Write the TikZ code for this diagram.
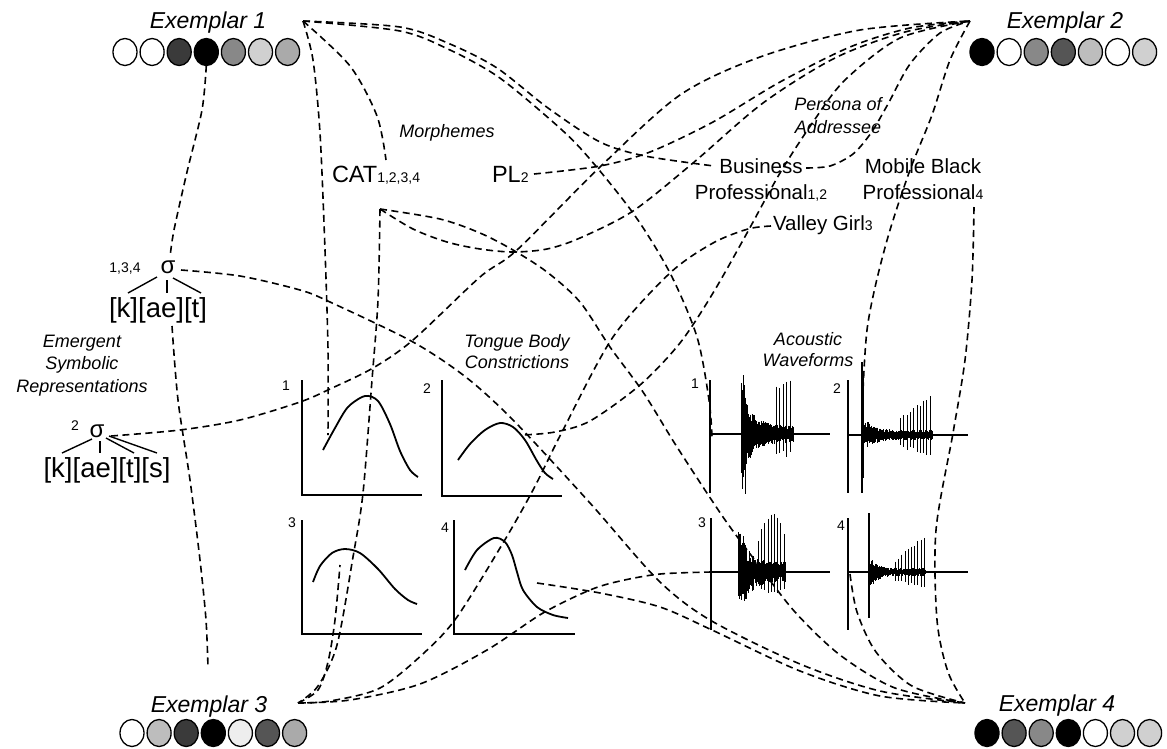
\documentclass[tikz,border=0pt]{standalone}
\usepackage{fontspec}
\setmainfont{Liberation Sans}
\usetikzlibrary{shapes.geometric}
\definecolor{gA}{HTML}{3A3A3A}
\definecolor{gB}{HTML}{888888}
\definecolor{gC}{HTML}{D0D0D0}
\definecolor{gD}{HTML}{AAAAAA}
\definecolor{gE}{HTML}{555555}
\definecolor{gF}{HTML}{BDBDBD}
\definecolor{gG}{HTML}{EEEEEE}
\newcommand\sbs[1]{{\fontsize{14}{16}\selectfont #1}}
\begin{document}
\begin{tikzpicture}[x=1pt,y=-1pt,
  every node/.style={inner sep=0pt, outer sep=0pt},
  conn/.style={line width=1.6pt, dash pattern=on 7pt off 4.5pt},
  axisline/.style={line width=1.9pt},
  tcurve/.style={line width=1.8pt},
  wv/.style={line width=0.8pt},
  treeline/.style={line width=1.4pt},
  dotc/.style={ellipse, draw=black, line width=1.3pt, minimum width=24pt, minimum height=27pt},
  exl/.style={font=\fontsize{23}{27}\selectfont\itshape},
  lbl/.style={font=\fontsize{18}{22}\selectfont\itshape},
  big/.style={font=\fontsize{23.5}{28}\selectfont},
  pers/.style={font=\fontsize{20.5}{25}\selectfont},
  num/.style={font=\fontsize{14}{16}\selectfont},
  brk/.style={font=\fontsize{27.5}{30}\selectfont},
  sig/.style={font=\fontsize{24}{26}\selectfont},
]
\useasboundingbox (0,0) rectangle (1167,748);
\fill[white] (0,0) rectangle (1167,748);

% ---------- exemplar labels and feature circles
\node[exl, anchor=base] (ex1) at (208,28) {Exemplar 1};
\node[exl, anchor=base] (ex2) at (1065,28) {Exemplar 2};
\node[exl, anchor=base] (ex3) at (209,712) {Exemplar 3};
\node[exl, anchor=base] (ex4) at (1057,711) {Exemplar 4};
\foreach \c [count=\i] in {white,white,gA,black,gB,gC,gD}
  \node[dotc, fill=\c] (ea\i) at ({125+27.1*(\i-1)},52) {};
\foreach \c [count=\i] in {black,white,gB,gE,gF,white,gC}
  \node[dotc, fill=\c] (eb\i) at ({982+27.1*(\i-1)},52) {};
\foreach \c [count=\i] in {white,gF,gA,black,gG,gE,gD}
  \node[dotc, fill=\c] (ec\i) at ({132+27.1*(\i-1)},733) {};
\foreach \c [count=\i] in {black,gE,gB,black,white,gC,gC}
  \node[dotc, fill=\c] (ed\i) at ({987+27.1*(\i-1)},733) {};

% ---------- text labels
\node[lbl, anchor=base] (morph) at (447,137) {Morphemes};
\node[big, anchor=base west] (cat) at (332,182) {CAT\sbs{1,2,3,4}};
\node[big, anchor=base west] (pl) at (492,182) {PL\sbs{2}};
\node[lbl, anchor=base] (per1) at (838,110) {Persona of};
\node[lbl, anchor=base] (per2) at (838,133) {Addressee};
\node[pers, anchor=base] (bus1) at (761,173) {Business};
\node[pers, anchor=base] (bus2) at (761,199) {Professional\sbs{1,2}};
\node[pers, anchor=base] (mob1) at (923,173) {Mobile Black};
\node[pers, anchor=base] (mob2) at (923,199) {Professional\sbs{4}};
\node[pers, anchor=base west] (val) at (773,230) {Valley Girl\sbs{3}};
\node[lbl, anchor=base] (em1) at (82,347) {Emergent};
\node[lbl, anchor=base] (em2) at (82,369) {Symbolic};
\node[lbl, anchor=base] (em3) at (82,392) {Representations};
\node[lbl, anchor=base] (tb1) at (517,347) {Tongue Body};
\node[lbl, anchor=base] (tb2) at (517,368) {Constrictions};
\node[lbl, anchor=base] (ac1) at (808,345) {Acoustic};
\node[lbl, anchor=base] (ac2) at (808,366) {Waveforms};

% ---------- symbolic representations
\node[sig, anchor=base] (sig1) at (168,273) {σ};
\node[num, anchor=base] (sig1n) at (125,272) {1,3,4};
\node[brk, anchor=base] (kat) at (158,317) {[k][ae][t]};
\draw[treeline] (157,277) -- (128,293);
\draw[treeline] (167,280) -- (167,293);
\draw[treeline] (173,278) -- (201,293);
\node[sig, anchor=base] (sig2) at (97,437) {σ};
\node[num, anchor=base] (sig2n) at (75,430) {2};
\node[brk, anchor=base] (kats) at (107,477) {[k][ae][t][s]};
\draw[treeline] (92,439) -- (62,453);
\draw[treeline] (100,441) -- (100,453);
\draw[treeline] (106,438) -- (134,453);
\draw[treeline] (109,436) -- (157,453);

% ---------- tongue body panels
\node[num, anchor=base] (p1n) at (286,390) {1};
\node[num, anchor=base] (p2n) at (427,393) {2};
\node[num, anchor=base] (p3n) at (292,527) {3};
\node[num, anchor=base] (p4n) at (445,532) {4};
\draw[axisline] (302,380) -- (302,495) -- (422,495);
\draw[axisline] (442,380) -- (442,496) -- (562,496);
\draw[axisline] (302,520) -- (302,634) -- (422,634);
\draw[axisline] (454,520) -- (454,634) -- (575,634);
\draw[tcurve] plot[smooth] coordinates {(323,450) (335,428) (348,407) (365,396) (378,401) (390,424) (400,451) (410,470) (418,477)};
\draw[tcurve] plot[smooth] coordinates {(458,460) (470,444) (485,430) (500,423) (513,427) (525,440) (537,461) (545,473) (553,479)};
\draw[tcurve] plot[smooth] coordinates {(313,582) (320,566) (332,553) (345,549) (360,553) (378,569) (395,589) (408,600) (417,604)};
\draw[tcurve] plot[smooth] coordinates {(465,570) (477,550) (494,538) (505,542) (512,555) (517,572) (523,590) (537,607) (553,615) (568,618)};

% ---------- acoustic waveforms
\node[num, anchor=base] (w1n) at (695,388) {1};
\node[num, anchor=base] (w2n) at (837,393) {2};
\node[num, anchor=base] (w3n) at (702,527) {3};
\node[num, anchor=base] (w4n) at (841,530) {4};
\pgfmathsetseed{4242}
\foreach \x in {741,741.5,...,793}{
  \pgfmathsetmacro\onA{\x<746 ? 1 : 0}
  \pgfmathsetmacro\spA{and(\x>=776, mod(\x-776,3.5)<0.5) ? 1 : 0}
  \pgfmathsetmacro\envA{8+24*exp(-(\x-746)/11)}
  \pgfmathsetmacro\upA{\onA>0 ? 34+28*rnd : (\spA>0 ? 46+8*rnd : \envA*(0.4+0.6*rnd))}
  \pgfmathsetmacro\dnA{\onA>0 ? 30+30*rnd : (\spA>0 ? 16+8*rnd : \envA*(0.4+0.6*rnd))}
  \draw[wv] (\x,434-\upA) -- (\x,434+\dnA);
}
\draw[line width=1.1pt] (862,362) -- (862,493);
\draw[wv] (863.5,378) -- (863.5,478);
\foreach \x in {864,864.5,...,932}{
  \pgfmathsetmacro\spA{and(\x>=900, mod(\x-900,3.3)<0.5) ? 1 : 0}
  \pgfmathsetmacro\envA{5+12*exp(-(\x-864)/9)}
  \pgfmathsetmacro\grA{(\x-900)/32}
  \pgfmathsetmacro\upA{\spA>0 ? 14+22*\grA+5*rnd : \envA*(0.4+0.6*rnd)}
  \pgfmathsetmacro\dnA{\spA>0 ? 9+9*\grA+4*rnd : \envA*(0.4+0.6*rnd)}
  \draw[wv] (\x,435-\upA) -- (\x,435+\dnA);
}
\foreach \x in {738,738.5,...,785}{
  \pgfmathsetmacro\onA{\x<744 ? 1 : 0}
  \pgfmathsetmacro\spA{and(\x>=758, mod(\x-758,3.2)<0.5) ? 1 : 0}
  \pgfmathsetmacro\grA{max(0.2,sin((\x-756)*5.5))}
  \pgfmathsetmacro\envA{10+22*exp(-(\x-744)/9)}
  \pgfmathsetmacro\upA{\onA>0 ? 24+16*rnd : (\spA>0 ? 22+34*\grA+4*rnd : \envA*(0.4+0.6*rnd))}
  \pgfmathsetmacro\dnA{\onA>0 ? 16+12*rnd : (\spA>0 ? 10+10*\grA+3*rnd : \envA*(0.4+0.6*rnd))}
  \draw[wv] (\x,572-\upA) -- (\x,572+\dnA);
}
\draw[line width=1.1pt] (869,513) -- (869,618);
\foreach \x in {870,870.5,...,925}{
  \pgfmathsetmacro\spA{and(\x>=895, mod(\x-895,3.2)<0.5) ? 1 : 0}
  \pgfmathsetmacro\grA{(\x-895)/30}
  \pgfmathsetmacro\envA{4+12*exp(-(\x-870)/7)}
  \pgfmathsetmacro\upA{\spA>0 ? 10+24*\grA+4*rnd : \envA*(0.4+0.6*rnd)}
  \pgfmathsetmacro\dnA{\spA>0 ? 7+8*\grA+3*rnd : \envA*(0.4+0.6*rnd)}
  \draw[wv] (\x,572-\upA) -- (\x,572+\dnA);
}
\draw[axisline] (710,380) -- (710,493);
\draw[axisline] (710,434) -- (830,434);
\draw[axisline] (848,380) -- (848,493);
\draw[axisline] (848,435) -- (968,435);
\draw[axisline] (711,518) -- (711,630);
\draw[axisline] (711,572) -- (830,572);
\draw[axisline] (848,518) -- (848,630);
\draw[axisline] (848,572) -- (968,572);

% ---------- connector end points
\coordinate (h1) at (303,21);
\coordinate (h2) at (970,21);
\coordinate (h3) at (298,703);
\coordinate (h4) at (965,703);
\coordinate (t1) at (328,435);
\coordinate (t2) at (523,435);
\coordinate (t3) at (340,565);
\coordinate (t4) at (537,583);
\coordinate (w1) at (712,437);
\coordinate (w2) at (862,437);
\coordinate (w3) at (711,572);
\coordinate (w4) at (850,574);
\coordinate (catT) at (386,160);
\coordinate (catB) at (380,209);
\coordinate (plR) at (534,174);
\coordinate (busL) at (714,166);
\coordinate (busR) at (806,168);
\coordinate (mobB) at (974,207);
\coordinate (valL) at (771,226);
\coordinate (s1T) at (170,257);
\coordinate (s1R) at (181,270);
\coordinate (s1B) at (172,326);
\coordinate (s1E) at (208,668);
\coordinate (s2R) at (111,436);

% ---------- dashed connectors
\draw[conn] plot[smooth] coordinates {(ea4.south) (202,110) (187,172) (174,230) (s1T)};
\draw[conn] plot[smooth] coordinates {(h1) (350,66) (377,116) (catT)};
\draw[conn] plot[smooth] coordinates {(h1) (313,60) (320,133) (325,250) (328,350) (t1)};
\draw[conn] plot[smooth] coordinates {(h1) (400,27) (450,44) (497,68) (548,108) (600,142) (645,156) (busL)};
\draw[conn] plot[smooth] coordinates {(h1) (400,31) (450,50) (497,76) (545,115) (582,150) (633,213) (670,273) (697,337) (709,400) (w1)};
\draw[conn] plot[smooth] coordinates {(catB) (413,229) (447,242) (480,249) (513,252) (547,249) (580,238) (633,211) (693,163) (763,103) (835,58) (905,32) (h2)};
\draw[conn] plot[smooth] coordinates {(catB) (440,219) (480,233) (513,250) (547,272) (580,302) (610,347) (643,392) (677,447) (723,517) (757,563) (795,612) (840,655) (895,688) (h4)};
\draw[conn] plot[smooth] coordinates {(catB) (378,300) (372,380) (363,493) (353,557) (337,645) (318,686) (h3)};
\draw[conn] plot[smooth] coordinates {(plR) (600,166) (650,152) (713,122) (780,82) (850,47) (910,28) (h2)};
\draw[conn] plot[smooth] coordinates {(busR) (830,166) (853,154) (871,133) (888,104) (910,64) (940,33) (h2)};
\draw[conn] plot[smooth] coordinates {(h2) (900,38) (845,80) (813,122) (780,173) (747,233) (713,293) (680,343) (640,385) (590,421) (555,432) (t2)};
\draw[conn] plot[smooth] coordinates {(h2) (950,60) (932,115) (910,170) (890,230) (876,283) (867,330) (863,390) (w2)};
\draw[conn] plot[smooth] coordinates {(mobB) (972,280) (965,360) (953,433) (936,530) (937,620) (948,672) (h4)};
\draw[conn] plot[smooth] coordinates {(w4) (857,612) (876,652) (912,686) (h4)};
\draw[conn] plot[smooth] coordinates {(s1R) (240,276) (300,290) (330,302) (413,342) (467,378) (515,422) (590,503) (658,580) (710,620) (800,664) (880,691) (h4)};
\draw[conn] plot[smooth] coordinates {(t4) (600,593) (660,607) (712,630) (800,671) (880,696) (h4)};
\draw[conn] plot[smooth] coordinates {(w3) (660,574) (620,581) (590,590) (543,613) (487,650) (420,684) (350,700) (h3)};
\draw[conn] plot[smooth] coordinates {(valL) (748,229) (713,243) (670,273) (613,337) (563,430) (533,490) (503,543) (457,617) (425,652) (380,688) (330,701) (h3)};
\draw[conn] plot[smooth] coordinates {(h3) (318,690) (328,662) (335,620) (t3)};
\draw[conn] plot[smooth] coordinates {(s2R) (180,430) (240,420) (300,402) (330,389) (373,368) (413,340) (480,277) (517,250) (600,167) (680,95) (760,57) (860,30) (h2)};
\draw[conn] plot[smooth] coordinates {(s1B) (178,400) (190,480) (200,560) (206,620) (s1E)};
\end{tikzpicture}
\end{document}
